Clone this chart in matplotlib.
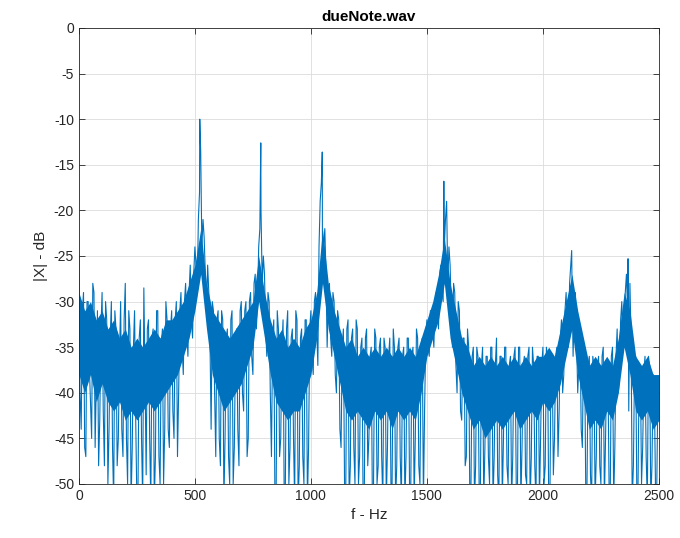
import numpy as np
import matplotlib
matplotlib.use("Agg")
import matplotlib.pyplot as plt

# spectrum magnitude, one value every 10 Hz (0..2500 Hz)
freq_step_hz = 10
mag_db = [
    -25, -44, -29, -47, -30, -41, -28, -46, -31, -43,   # 0-90
    -29, -48, -32, -44, -30, -52, -33, -45, -30, -47,   # 100-190
    -28, -50, -33, -46, -31, -52, -34, -45, -28.5, -49, # 200-290
    -32, -52, -33, -47, -31, -50, -33, -44, -32, -46,   # 300-390
    -31, -45, -30, -40, -29, -38, -28, -36, -26, -34,   # 400-490
    -24, -29, -18, -24, -23, -31, -29, -44, -31, -47,   # 500-590
    -31, -48, -32, -45, -33, -50, -31, -46, -33, -48,   # 600-690
    -30, -42, -30, -45, -29, -38, -27, -30, -22, -28,   # 700-790
    -27, -36, -30, -47, -32, -52, -33, -45, -32, -50,   # 800-890
    -31, -46, -33, -52, -32, -48, -33, -50, -32, -46,   # 900-990
    -31, -38, -29, -37, -19, -28, -22, -35, -28, -36,   # 1000-1090
    -30, -40, -32, -46, -33, -52, -32, -48, -33, -50,   # 1100-1190
    -33, -47, -34, -52, -33, -45, -35, -50, -34, -48,   # 1200-1290
    -34, -52, -35, -46, -34, -50, -35, -48, -34, -52,   # 1300-1390
    -35, -47, -34, -52, -35, -45, -34, -50, -34, -42,   # 1400-1490
    -32, -36, -31, -35, -29, -33, -26, -30, -21, -28,   # 1500-1590
    -26, -35, -29, -40, -31, -43, -34, -47, -35, -50,   # 1600-1690
    -35, -48, -36, -52, -35, -46, -36, -50, -35, -47,   # 1700-1790
    -34, -52, -36, -45, -35, -50, -36, -47, -35, -52,   # 1800-1890
    -35, -46, -36, -50, -35, -47, -37, -52, -36, -45,   # 1900-1990
    -35, -48, -36, -52, -36, -45, -35, -42, -32, -38,   # 2000-2090
    -29, -35, -26, -36, -29, -40, -33, -46, -36, -50,   # 2100-2190
    -36, -52, -37, -47, -36, -50, -35, -45, -37, -52,   # 2200-2290
    -35, -46, -33, -38, -30, -34, -27, -42, -34, -48,   # 2300-2390
    -36, -50, -37, -46, -36, -52, -37, -48, -39, -52,   # 2400-2490
    -40,                                                # 2500
]

# the in-between bins (5, 15, 25, ... 2495 Hz)
mag_db_mid = [
    -40, -31, -46, -30, -37, -45, -29, -39, -48, -33,   # 5-95
    -42, -30, -50, -34, -46, -31, -48, -36, -44, -32,   # 105-195
    -45, -31, -52, -35, -43, -50, -32, -52, -38, -33,   # 205-295
    -45, -34, -52, -31, -47, -35, -50, -30, -44, -33,   # 305-395
    -42, -32, -47, -31, -35, -30, -33, -29, -32, -27,   # 405-495
    -26, -21, -13.5, -21, -27, -26, -34, -30, -40, -32, # 505-595
    -45, -31, -52, -34, -47, -32, -50, -35, -44, -31,   # 605-695
    -40, -31, -47, -30, -36, -28, -33, -24, -20, -25,   # 705-795
    -33, -29, -40, -34, -52, -31, -47, -35, -52, -33,   # 805-895
    -50, -34, -45, -31, -52, -34, -47, -32, -52, -33,   # 905-995
    -36, -30, -33, -24, -17, -24, -27, -30, -34, -29,   # 1005-1095
    -38, -31, -44, -35, -50, -33, -52, -34, -46, -32,   # 1105-1195
    -50, -35, -52, -34, -48, -36, -52, -33, -50, -35,   # 1205-1295
    -47, -34, -52, -36, -50, -33, -52, -35, -47, -36,   # 1305-1395
    -52, -34, -50, -36, -52, -33, -48, -35, -52, -34,   # 1405-1495
    -35, -31, -33, -30, -31, -27, -29, -24, -19, -24,   # 1505-1595
    -31, -28, -37, -30, -42, -34, -48, -33, -52, -36,   # 1605-1695
    -52, -35, -50, -37, -52, -36, -47, -35, -52, -37,   # 1705-1795
    -49, -36, -52, -35, -48, -37, -52, -36, -50, -35,   # 1805-1895
    -52, -37, -49, -36, -52, -35, -48, -36, -52, -37,   # 1905-1995
    -50, -35, -52, -37, -49, -36, -47, -34, -40, -31,   # 2005-2095
    -33, -28, -27, -31, -34, -37, -44, -35, -52, -37,   # 2105-2195
    -49, -36, -52, -37, -48, -36, -52, -37, -50, -36,   # 2205-2295
    -52, -36, -40, -32, -35, -29, -31, -28, -52, -37,   # 2305-2395
    -52, -37, -50, -38, -47, -36, -52, -38, -50, -41,   # 2405-2495
]

# sharp harmonic peaks that fall between the grid points
peak_hz = [521, 784, 1049, 1573, 2124, 2367]
peak_db = [-10, -12.6, -13.6, -16.8, -24.4, -25.3]

# the solid part of the noise band (every 25 Hz): upper and lower edge
core_step_hz = 25
core_hi = [
    -29, -31, -30, -32, -31, -33, -32, -34, -33, -35,   # 0-225
    -34, -35, -34, -33, -34, -32, -32, -31, -30, -28,   # 250-475
    -26, -22, -28, -31, -32, -33, -34, -33, -32, -31,   # 500-725
    -30, -25, -29, -32, -34, -33, -35, -34, -35, -33,   # 750-975
    -32, -29, -22, -28, -31, -33, -35, -34, -36, -35,   # 1000-1225
    -36, -35, -36, -35, -36, -35, -36, -35, -36, -34,   # 1250-1475
    -32, -30, -27, -23, -28, -31, -34, -35, -37, -36,   # 1500-1725
    -37, -36, -37, -36, -37, -36, -37, -36, -37, -36,   # 1750-1975
    -36, -35, -36, -33, -30, -27, -31, -34, -37, -36,   # 2000-2225
    -37, -36, -37, -34, -29, -31, -36, -37, -36, -38,   # 2250-2475
    -38,                                                # 2500
]
core_lo = [
    -38, -40, -38, -41, -39, -41, -42, -41, -43, -42,   # 0-225
    -43, -42, -41, -42, -41, -40, -39, -38, -36, -34,   # 250-475
    -31, -27, -33, -38, -40, -42, -41, -40, -39, -37,   # 500-725
    -35, -30, -34, -38, -41, -42, -43, -42, -42, -40,   # 750-975
    -38, -34, -28, -33, -36, -39, -42, -43, -42, -43,   # 1000-1225
    -44, -42, -43, -42, -44, -42, -43, -42, -43, -40,   # 1250-1475
    -36, -34, -32, -28, -34, -37, -40, -42, -44, -43,   # 1500-1725
    -45, -44, -43, -44, -43, -42, -44, -43, -42, -43,   # 1750-1975
    -41, -42, -41, -39, -36, -33, -38, -41, -44, -43,   # 2000-2225
    -44, -42, -43, -40, -35, -38, -42, -43, -42, -44,   # 2250-2475
    -43,                                                # 2500
]

f_even = np.arange(len(mag_db)) * freq_step_hz
f_mid = f_even[:-1] + freq_step_hz / 2
f_all = np.concatenate([f_even, f_mid, peak_hz])
db_all = np.concatenate([mag_db, mag_db_mid, peak_db])
order = np.argsort(f_all, kind="stable")
core_f = np.arange(len(core_hi)) * core_step_hz

plt.rcParams["font.family"] = ["Liberation Sans", "DejaVu Sans"]
plt.rcParams["axes.unicode_minus"] = False
AX_COLOR = "#262626"
LINE = "#0072BD"

fig = plt.figure(figsize=(6.8, 5.38), dpi=100)
ax = fig.add_axes([0.116, 0.1004, 0.853, 0.8476])

ax.fill_between(core_f, core_lo, core_hi, color=LINE, lw=0)
ax.plot(f_all[order], db_all[order], color=LINE, lw=0.8)

ax.set_xlim(0, 2500)
ax.set_ylim(-50, 0)
ax.set_xticks(range(0, 2501, 500))
ax.set_yticks(range(-50, 1, 5))
ax.grid(True, color="#dcdcdc", lw=0.6)
ax.set_axisbelow(True)

ax.tick_params(direction="in", length=4, width=0.6, colors=AX_COLOR,
               labelsize=10, top=True, right=True)
for sp in ax.spines.values():
    sp.set_color(AX_COLOR)
    sp.set_linewidth(0.6)

ax.set_xlabel("f - Hz", fontsize=11, color=AX_COLOR)
ax.set_ylabel("|X| - dB", fontsize=11, color=AX_COLOR)
ax.set_title("dueNote.wav", fontsize=11, fontweight="bold", color="black", pad=5)

fig.savefig("out.png", dpi=100)
